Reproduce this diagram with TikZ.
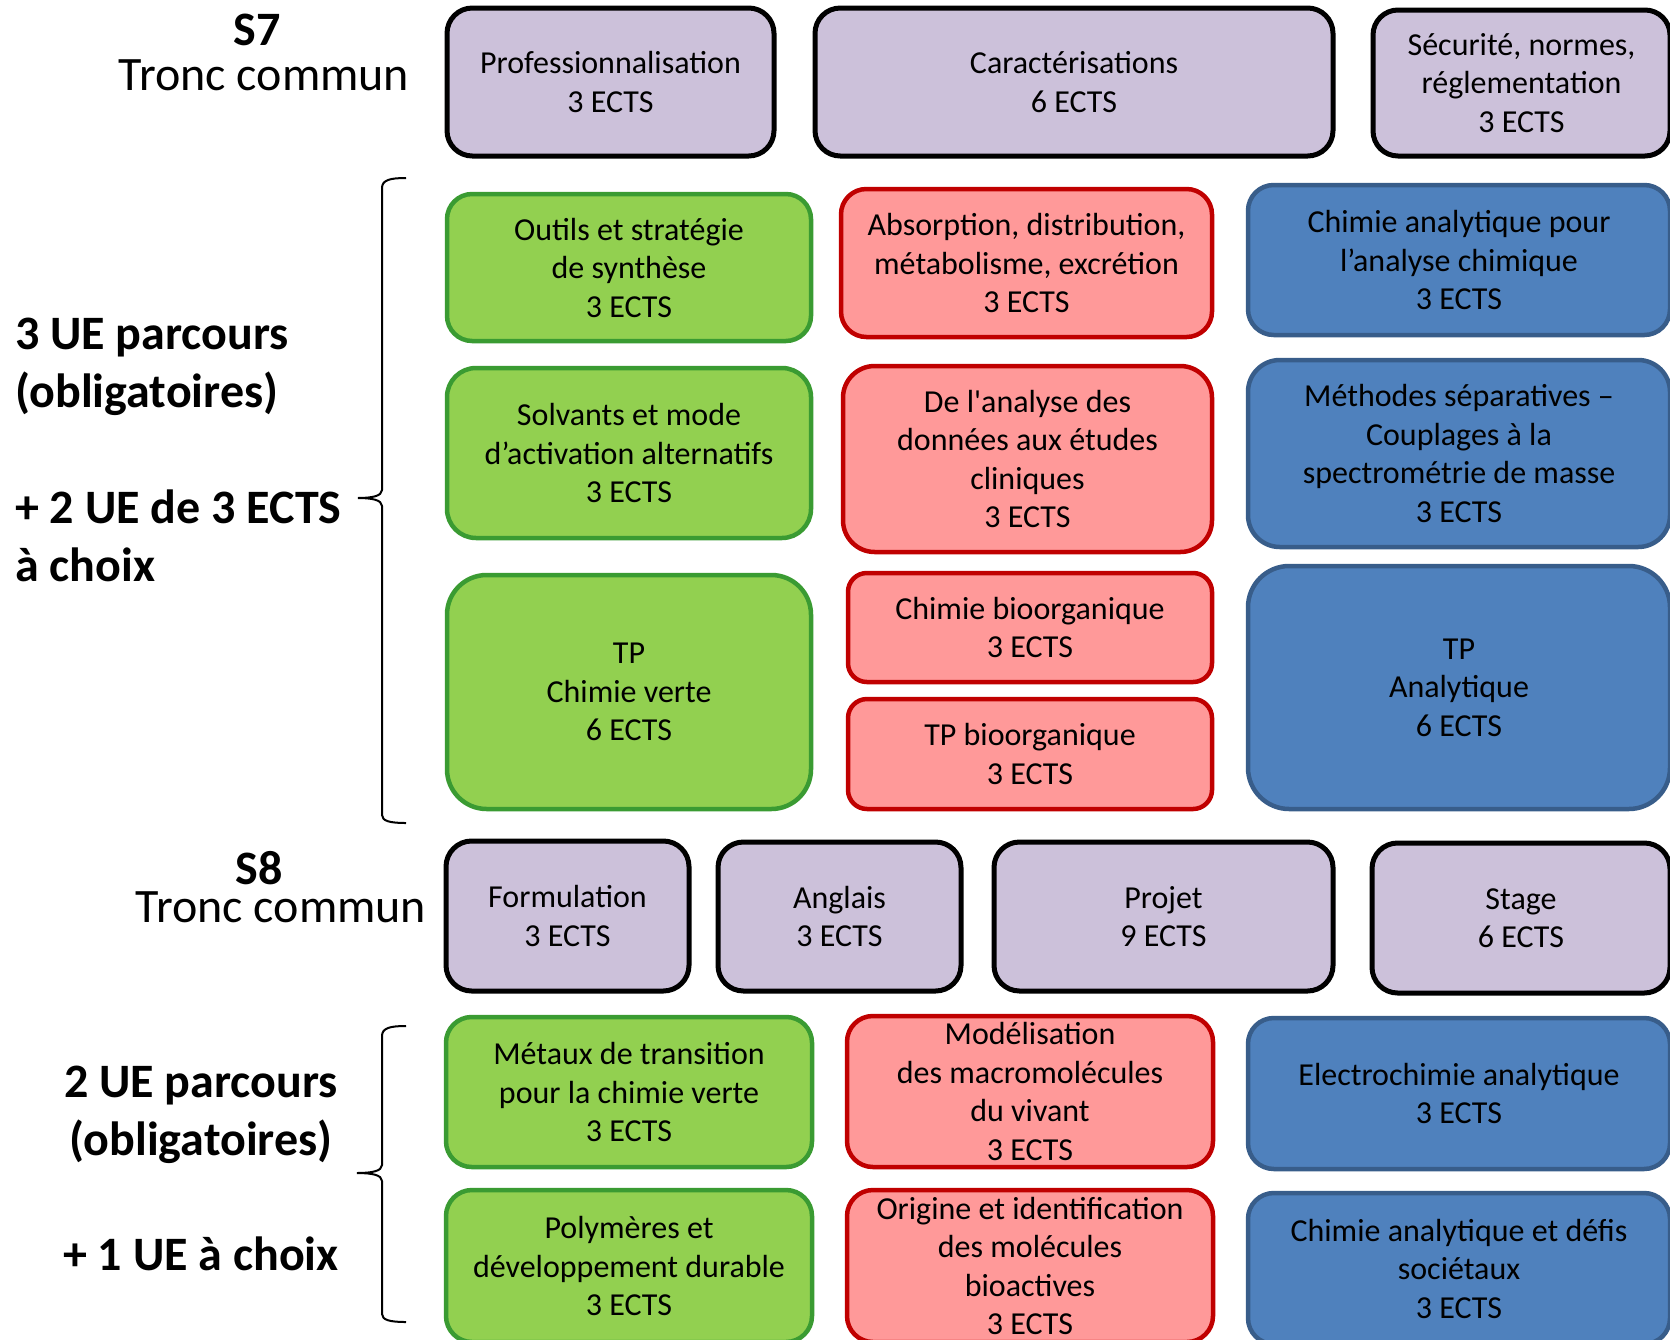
\documentclass[tikz,border=0pt]{standalone}
\usepackage{fontspec}
\setmainfont{Carlito}
\newfontfamily\aposfont{Carlito}
\definecolor{lav}{HTML}{CCC1DA}
\definecolor{grfill}{HTML}{92D050}
\definecolor{grline}{HTML}{3A9B32}
\definecolor{rdfill}{HTML}{FF9999}
\definecolor{rdline}{HTML}{C00000}
\definecolor{blfill}{HTML}{4F81BD}
\definecolor{blline}{HTML}{385D8A}
\tikzset{
  uetxt/.style={inner sep=0pt, align=center, font=\fontsize{32}{38.5}\selectfont},
  common/.style={uetxt, draw=black, fill=lav, line width=5pt},
  green/.style={uetxt, draw=grline, fill=grfill, line width=4.5pt},
  red/.style={uetxt, draw=rdline, fill=rdfill, line width=4.5pt},
  blue/.style={uetxt, draw=blline, fill=blfill, line width=4.5pt},
  biglabel/.style={inner sep=0pt, font=\fontsize{48}{57.6}\selectfont\bfseries},
  tronc/.style={inner sep=0pt, font=\fontsize{48}{57.6}\selectfont},
  bracestyle/.style={line width=2pt, black}
}
\newcommand{\uebox}[7]{%
  \pgfmathsetmacro\bw{#5-#3-4}%
  \pgfmathsetmacro\bh{#6-#4-4}%
  \pgfmathsetmacro\br{0.1667*min(#5-#3,#6-#4)}%
  \node[#1, minimum width=\bw pt, minimum height=\bh pt, rounded corners=\br pt] (#2) at ({(#3+#5)/2},{(#4+#6)/2}) {#7};}
\begin{document}
\begin{tikzpicture}[x=1pt,y=-1pt]
\useasboundingbox (0,0) rectangle (1670,1339);
% S7 common
\node[biglabel] (s7) at (257,30) {S7};
\node[tronc] (tc7) at (264,75) {Tronc commun};
\uebox{common}{prof}{445}{6}{776}{158}{Professionnalisation\\3 ECTS}
\uebox{common}{carac}{813}{6}{1335}{158}{Caractérisations\\6 ECTS}
\uebox{common}{secu}{1371}{8}{1672}{158}{Sécurité, normes,\\réglementation\\3 ECTS}
% S7 parcours
\uebox{green}{outils}{445}{192}{813}{343}{Outils et stratégie\\de synthèse\\3 ECTS}
\uebox{green}{solv}{445}{366}{813}{540}{Solvants et mode\\d’activation alternatifs\\3 ECTS}
\uebox{green}{tpvert}{445}{573}{813}{811}{TP\\Chimie verte\\6 ECTS}
\uebox{red}{adme}{839}{187}{1214}{339}{Absorption, distribution,\\métabolisme, excrétion\\3 ECTS}
\uebox{red}{analyse}{841}{364}{1214}{554}{De l{\aposfont'}analyse des\\données aux études\\cliniques\\3 ECTS}
\uebox{red}{bioorg}{846}{571}{1214}{684}{Chimie bioorganique\\3 ECTS}
\uebox{red}{tpbio}{846}{697}{1214}{811}{TP bioorganique\\3 ECTS}
\uebox{blue}{anachim}{1246}{183}{1672}{337}{Chimie analytique pour\\l’analyse chimique\\3 ECTS}
\uebox{blue}{methsep}{1246}{358}{1672}{549}{Méthodes séparatives –\\Couplages à la\\spectrométrie de masse\\3 ECTS}
\uebox{blue}{tpana}{1246}{564}{1672}{811}{TP\\Analytique\\6 ECTS}
% S8 common
\node[biglabel] (s8) at (259,868) {S8};
\node[tronc] (tc8) at (281,907) {Tronc commun};
\uebox{common}{formu}{444}{839}{691}{993}{Formulation\\3 ECTS}
\uebox{common}{angl}{716}{840}{963}{993}{Anglais\\3 ECTS}
\uebox{common}{projet}{992}{840}{1335}{993}{Projet\\9 ECTS}
\uebox{common}{stage}{1370}{841}{1672}{995}{Stage\\6 ECTS}
% S8 parcours
\uebox{green}{metaux}{444}{1015}{814}{1169}{Métaux de transition\\pour la chimie verte\\3 ECTS}
\uebox{green}{polym}{444}{1188}{814}{1344}{Polymères et\\développement durable\\3 ECTS}
\uebox{red}{model}{845}{1014}{1215}{1169}{Modélisation\\des macromolécules\\du vivant\\3 ECTS}
\uebox{red}{origine}{845}{1188}{1215}{1344}{Origine et identification\\des molécules\\bioactives\\3 ECTS}
\uebox{blue}{electro}{1246}{1016}{1672}{1171}{Electrochimie analytique\\3 ECTS}
\uebox{blue}{defis}{1246}{1191}{1672}{1346}{Chimie analytique et défis\\sociétaux\\3 ECTS}
% left labels
\node[biglabel, align=left, anchor=west] (lab1) at (15,367) {3 UE parcours\\(obligatoires)};
\node[biglabel, align=left, anchor=west] (lab2) at (15,536) {+ 2 UE de 3 ECTS\\à choix};
\node[biglabel, align=center] (lab3) at (201,1115) {2 UE parcours\\(obligatoires)};
\node[biglabel] (lab4) at (201,1254) {+ 1 UE à choix};
% braces
\coordinate (b1t) at (406,178);
\coordinate (b1m) at (358,498);
\coordinate (b1b) at (406,823);
\draw[bracestyle] (b1t) .. controls (390,178) and (382,180) .. (382,188) -- (382,490)
  .. controls (382,496) and (372,498) .. (b1m) .. controls (372,498) and (382,500) .. (382,506)
  -- (382,815) .. controls (382,821) and (390,823) .. (b1b);
\coordinate (b2t) at (406,1026);
\coordinate (b2m) at (357,1173);
\coordinate (b2b) at (406,1322);
\draw[bracestyle] (b2t) .. controls (390,1026) and (382,1028) .. (382,1036) -- (382,1165)
  .. controls (382,1171) and (372,1173) .. (b2m) .. controls (372,1173) and (382,1175) .. (382,1181)
  -- (382,1314) .. controls (382,1320) and (390,1322) .. (b2b);
\end{tikzpicture}
\end{document}
